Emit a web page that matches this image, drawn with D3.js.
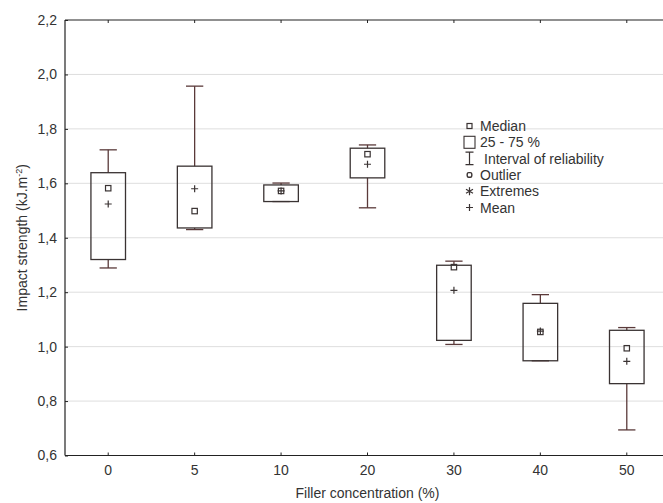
<!DOCTYPE html>
<meta charset="utf-8">
<script src="https://d3js.org/d3.v7.min.js"></script>
<style>
  body { margin: 0; background: #fff; }
  text { font-family: "Liberation Sans", Arial, sans-serif; fill: #333; }
</style>
<div id="chart"></div>
<script>
// data
const concentrations = ["0", "5", "10", "20", "30", "40", "50"];
const q1      = [1.320, 1.436, 1.533, 1.620, 1.023, 0.948, 0.864];
const q3      = [1.639, 1.663, 1.594, 1.729, 1.299, 1.159, 1.060];
const whiskLo = [1.289, 1.430, 1.533, 1.510, 1.008, 0.948, 0.694];
const whiskHi = [1.723, 1.957, 1.601, 1.741, 1.314, 1.191, 1.070];
const medians = [1.582, 1.498, 1.572, 1.707, 1.292, 1.054, 0.994];
const means   = [1.524, 1.580, 1.572, 1.670, 1.207, 1.057, 0.946];
const yTicks  = [0.6, 0.8, 1.0, 1.2, 1.4, 1.6, 1.8, 2.0, 2.2];
const legendItems = ["Median", "25 - 75 %", "Interval of reliability", "Outlier", "Extremes", "Mean"];

const width = 663, height = 503;
const pLeft = 65, pRight = 670, pTop = 20, pBottom = 455.5;
const ink = "#3a3333";

const svg = d3.select("#chart").append("svg")
    .attr("width", width)
    .attr("height", height);

const x = d3.scaleBand().domain(concentrations).range([pLeft, pRight]);
const y = d3.scaleLinear().domain([0.6, 2.2]).range([pBottom, pTop]);
const fmt = d => d3.format(".1f")(d).replace(".", ",");

// grid lines
svg.append("g")
  .selectAll("line")
  .data(yTicks.slice(1, -1))
  .join("line")
    .attr("x1", pLeft).attr("x2", pRight)
    .attr("y1", d => y(d)).attr("y2", d => y(d))
    .style("stroke", "#dedede");

// axes
const yAxis = svg.append("g")
    .attr("transform", "translate(" + pLeft + ",0)")
    .call(d3.axisLeft(y).tickValues(yTicks).tickFormat(fmt).tickSize(-3).tickPadding(8));
const xAxis = svg.append("g")
    .attr("transform", "translate(0," + pBottom + ")")
    .call(d3.axisBottom(x).tickSize(-3).tickPadding(10));
const topAxis = svg.append("g")
    .attr("transform", "translate(0," + pTop + ")")
    .call(d3.axisTop(x).tickSize(-3).tickFormat(""));
[yAxis, xAxis, topAxis].forEach(g => {
  g.selectAll(".domain").attr("stroke", "#222").attr("stroke-width", 1.2);
  g.selectAll(".tick line").attr("stroke", "#222");
  g.selectAll("text").style("font-size", "14px").style("fill", "#333");
});
xAxis.select(".domain").attr("d", "M" + pLeft + ",0H" + pRight);
topAxis.select(".domain").attr("d", "M" + pLeft + ",0H" + pRight);
yAxis.select(".domain").attr("d", "M0," + pTop + "V" + pBottom);

// boxes
const boxW = x.bandwidth() * 0.4, capW = x.bandwidth() * 0.2;
const cx = i => x(concentrations[i]) + x.bandwidth() / 2;
const boxes = svg.append("g").selectAll("g")
  .data(concentrations.map((c, i) => i))
  .join("g");

boxes.append("line")
    .attr("x1", cx).attr("x2", cx)
    .attr("y1", i => y(whiskHi[i])).attr("y2", i => y(q3[i]))
    .style("stroke", "#5a3a3a").style("stroke-width", 1.3);
boxes.append("line")
    .attr("x1", cx).attr("x2", cx)
    .attr("y1", i => y(whiskLo[i])).attr("y2", i => y(q1[i]))
    .style("stroke", "#5a3a3a").style("stroke-width", 1.3);
[whiskHi, whiskLo].forEach(arr => {
  boxes.append("line")
      .attr("x1", i => cx(i) - capW / 2).attr("x2", i => cx(i) + capW / 2)
      .attr("y1", i => y(arr[i])).attr("y2", i => y(arr[i]))
      .style("stroke", "#5a3a3a").style("stroke-width", 1.3);
});
boxes.append("rect")
    .attr("x", i => cx(i) - boxW / 2)
    .attr("width", boxW)
    .attr("y", i => y(q3[i]))
    .attr("height", i => y(q1[i]) - y(q3[i]))
    .style("fill", "none").style("stroke", ink).style("stroke-width", 1.3);
boxes.append("rect")
    .attr("x", i => cx(i) - 2.7).attr("y", i => y(medians[i]) - 2.7)
    .attr("width", 5.4).attr("height", 5.4)
    .style("fill", "none").style("stroke", ink).style("stroke-width", 1.2);
boxes.append("path")
    .attr("d", i => "M" + (cx(i) - 3.5) + "," + y(means[i]) + "h7M" + cx(i) + "," + (y(means[i]) - 3.5) + "v7")
    .style("stroke", ink).style("stroke-width", 1.2);

// legend
const lx = 469.5, ly = 126, lstep = 16.3;
const legend = svg.append("g");
legendItems.forEach((label, i) => {
  const yy = ly + i * lstep;
  const g = legend.append("g");
  if (i === 0) {
    g.append("rect").attr("x", lx - 2.5).attr("y", yy - 2.5).attr("width", 5).attr("height", 5)
      .style("fill", "none").style("stroke", ink).style("stroke-width", 1.2);
  } else if (i === 1) {
    g.append("rect").attr("x", lx - 5.5).attr("y", yy - 6).attr("width", 11).attr("height", 12)
      .style("fill", "none").style("stroke", ink).style("stroke-width", 1.1);
  } else if (i === 2) {
    g.append("path").attr("d", "M" + (lx - 4) + "," + (yy - 6.5) + "h8M" + lx + "," + (yy - 6.5) + "v12.5M" + (lx - 4) + "," + (yy + 6) + "h8")
      .style("stroke", ink).style("stroke-width", 1.2).style("fill", "none");
  } else if (i === 3) {
    g.append("rect").attr("x", lx - 2.3).attr("y", yy - 2.3).attr("width", 4.6).attr("height", 4.6).attr("rx", 1.5)
      .style("fill", "none").style("stroke", ink).style("stroke-width", 1.4);
  } else if (i === 4) {
    g.append("path").attr("d", "M" + lx + "," + (yy - 4) + "v8M" + (lx - 3.5) + "," + (yy - 2) + "l7,4M" + (lx - 3.5) + "," + (yy + 2) + "l7,-4")
      .style("stroke", ink).style("stroke-width", 1.2);
  } else {
    g.append("path").attr("d", "M" + (lx - 3.5) + "," + yy + "h7M" + lx + "," + (yy - 3.5) + "v7")
      .style("stroke", ink).style("stroke-width", 1.2);
  }
  g.append("text")
      .attr("x", i === 2 ? 484 : 480)
      .attr("y", yy + 5)
      .style("font-size", "14px")
      .text(label);
});

// axis titles
svg.append("text")
    .attr("x", (pLeft + pRight) / 2)
    .attr("y", 498)
    .attr("text-anchor", "middle")
    .style("font-size", "14px")
    .text("Filler concentration (%)");
const yt = svg.append("text")
    .attr("transform", "translate(27," + ((pTop + pBottom) / 2) + ") rotate(-90)")
    .attr("text-anchor", "middle")
    .style("font-size", "14px");
yt.append("tspan").text("Impact strength (kJ.m");
yt.append("tspan").attr("dy", -5).style("font-size", "9px").text("-2");
yt.append("tspan").attr("dy", 5).text(")");
</script>
